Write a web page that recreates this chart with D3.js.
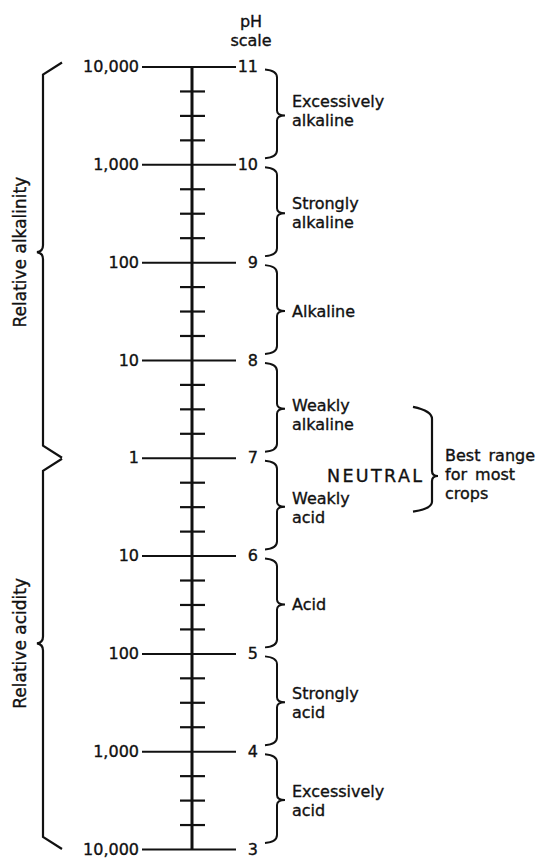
<!DOCTYPE html>
<html>
<head>
<meta charset="utf-8">
<script src="https://cdn.jsdelivr.net/npm/d3@7"></script>
<style>
  html, body { margin: 0; padding: 0; background: #fff; }
  svg text { font-family: "DejaVu Sans", sans-serif; fill: #111; stroke: #111; stroke-width: 0.35px; }
</style>
</head>
<body>
<svg id="chart" width="536" height="861"></svg>
<script>
// ---- data ----
const phValues = [11, 10, 9, 8, 7, 6, 5, 4, 3];
const relativeLabels = ["10,000", "1,000", "100", "10", "1", "10", "100", "1,000", "10,000"];
const minorPh = d3.range(3, 11.001, 0.25).filter(v => Math.abs(v - Math.round(v)) > 1e-6);
const classNames = [
  ["Excessively", "alkaline"],
  ["Strongly", "alkaline"],
  ["Alkaline"],
  ["Weakly", "alkaline"],
  ["Weakly", "acid"],
  ["Acid"],
  ["Strongly", "acid"],
  ["Excessively", "acid"]
];
const sideGroups = [
  { label: "Relative alkalinity", from: 11, to: 7 },
  { label: "Relative acidity", from: 7, to: 3 }
];
const bestRange = [7.5, 6.5];
const bestRangeLines = ["Best range", "for most", "crops"];
const neutralLabel = "NEUTRAL";
const scaleTitle = ["pH", "scale"];

// ---- layout ----
const svg = d3.select("#chart");
const axisX = 192;
const fs = 16;
const y = d3.scaleLinear().domain([11, 3]).range([66.5, 849]);
const ink = "#111";
// vertical offset of first label line relative to brace middle (layout only)
const labelShift = [-8, -4, 0, 2, -3, 0, -3, -3];

// main vertical line
svg.append("line")
  .attr("x1", axisX).attr("x2", axisX)
  .attr("y1", y(11)).attr("y2", y(3))
  .attr("stroke", ink).attr("stroke-width", 3);

// minor ticks (both sides)
const minorL = d3.axisLeft(y).tickValues(minorPh).tickSize(12).tickFormat("");
const minorR = d3.axisRight(y).tickValues(minorPh).tickSize(13).tickFormat("");
[minorL, minorR].forEach(ax => {
  const g = svg.append("g").attr("transform", `translate(${axisX},0)`).call(ax);
  g.select(".domain").remove();
  g.selectAll(".tick line").attr("stroke", ink).attr("stroke-width", 2.2);
});

// major ticks, left: relative values
const majorL = d3.axisLeft(y).tickValues(phValues).tickSize(50).tickPadding(3)
  .tickFormat((d, i) => relativeLabels[i]);
const gL = svg.append("g").attr("transform", `translate(${axisX},0)`).call(majorL);
gL.select(".domain").remove();
gL.selectAll(".tick line").attr("stroke", ink).attr("stroke-width", 2);
gL.selectAll(".tick text").attr("font-size", fs).attr("font-family", null).attr("fill", ink);

// major ticks, right: pH
const majorR = d3.axisRight(y).tickValues(phValues).tickSize(44).tickPadding(2)
  .tickFormat(d3.format("d"));
const gR = svg.append("g").attr("transform", `translate(${axisX},0)`).call(majorR);
gR.select(".domain").remove();
gR.selectAll(".tick line").attr("stroke", ink).attr("stroke-width", 2);
gR.selectAll(".tick text").attr("font-size", fs).attr("font-family", null).attr("fill", ink)
  .attr("text-anchor", "end").attr("x", 66);

// pH scale title
svg.append("text").attr("x", 251).attr("y", 27).attr("text-anchor", "middle")
  .attr("font-size", fs).text(scaleTitle[0]);
svg.append("text").attr("x", 251).attr("y", 46).attr("text-anchor", "middle")
  .attr("font-size", fs).text(scaleTitle[1]);

// small braces and class labels
function rightBrace(x0, xv, xp, y1, y2, ym) {
  return `M${x0},${y1} Q${xv},${y1 + 1} ${xv},${y1 + 8} L${xv},${ym - 5} Q${xv},${ym} ${xp},${ym}` +
         ` Q${xv},${ym} ${xv},${ym + 5} L${xv},${y2 - 8} Q${xv},${y2 - 1} ${x0},${y2}`;
}
classNames.forEach((lines, i) => {
  const yt = y(phValues[i]), yb = y(phValues[i + 1]);
  const ym = (yt + yb) / 2;
  svg.append("path")
    .attr("d", rightBrace(265, 277, 285, yt + 3, yb - 6, ym))
    .attr("fill", "none").attr("stroke", ink).attr("stroke-width", 2);
  const t = svg.append("text").attr("font-size", fs);
  if (lines.length === 1) {
    t.append("tspan").attr("x", 292).attr("y", ym + 5.5).text(lines[0]);
  } else {
    const b = ym + labelShift[i];
    t.append("tspan").attr("x", 292).attr("y", b).text(lines[0]);
    t.append("tspan").attr("x", 292).attr("y", b + 19).text(lines[1]);
  }
});

// big left braces
function leftBrace(x0, xv, xp, y1, y2, ym) {
  return `M${x0},${y1} L${xv},${y1 + 12} L${xv},${ym - 7} Q${xv},${ym - 1} ${xp},${ym}` +
         ` Q${xv},${ym + 1} ${xv},${ym + 7} L${xv},${y2 - 12} L${x0},${y2}`;
}
sideGroups.forEach((g, i) => {
  const y1 = y(g.from) + (i === 0 ? -4 : 1);
  const y2 = y(g.to);
  const ym = (y(g.from) + y(g.to)) / 2 - 10;
  svg.append("path")
    .attr("d", leftBrace(62, 43, 37, y1, y2, ym))
    .attr("fill", "none").attr("stroke", ink).attr("stroke-width", 2.2);
  svg.append("text")
    .attr("transform", `translate(26,${ym}) rotate(-90)`)
    .attr("text-anchor", "middle").attr("font-size", 17)
    .text(g.label);
});

// best range brace
const by1 = y(bestRange[0]) - 2, by2 = y(bestRange[1]) + 5;
const bym = 476;
svg.append("path")
  .attr("d", `M413,${by1} Q432,${by1 + 4} 432,${by1 + 12} L432,${bym - 5} Q432,${bym} 438,${bym}` +
             ` Q432,${bym} 432,${bym + 5} L432,${by2 - 10} Q432,${by2 - 3} 413,${by2}`)
  .attr("fill", "none").attr("stroke", ink).attr("stroke-width", 2.2);

svg.append("text").attr("x", 327).attr("y", 482).attr("font-size", 17.5)
  .attr("textLength", 95).attr("lengthAdjust", "spacing").text(neutralLabel);

bestRangeLines.forEach((s, i) => {
  svg.append("text").attr("x", 445).attr("y", 461 + i * 19).attr("font-size", fs)
    .attr("word-spacing", 3).text(s);
});
</script>
</body>
</html>
